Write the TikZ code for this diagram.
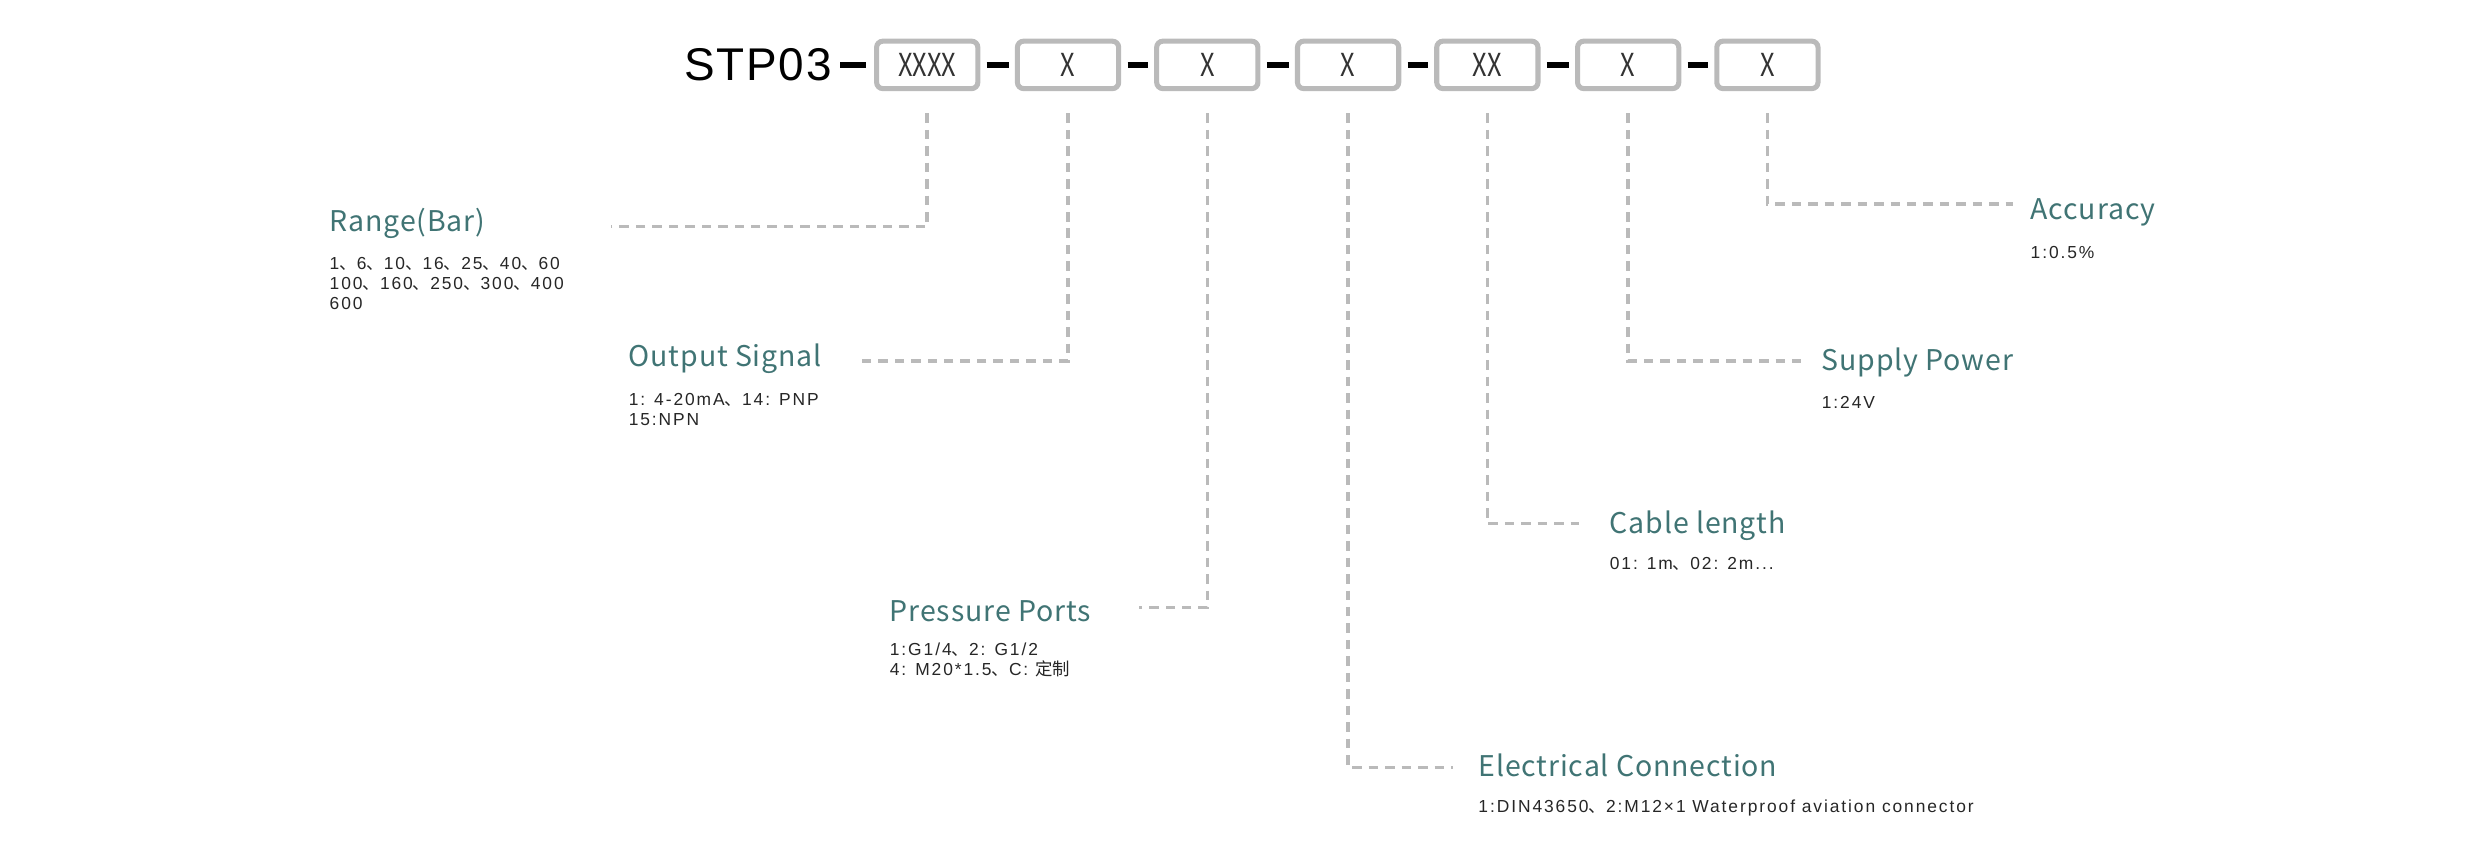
\documentclass[tikz,border=0pt]{standalone}
\usepackage{fontspec}
\setmainfont{Noto Sans CJK SC}
\newfontfamily\detailfont{Liberation Sans}
\newfontfamily\cjkfont{Noto Sans CJK SC}
\newfontfamily\stpfont{Liberation Sans}
\begin{document}
\begin{tikzpicture}[x=0.5pt,y=-0.5pt,
  box/.style={draw=black!27,line width=1.6pt,rounded corners=2pt,minimum width=32pt,minimum height=15pt,inner sep=0pt,text=black!80,font=\fontsize{10}{10}\selectfont\addfontfeature{FakeStretch=0.8}},
  sep/.style={line width=1.7pt,black},
  conn/.style={draw=black!27,line width=1.1pt,dash pattern=on 3pt off 2.2pt,shorten <=7pt},
  lab/.style={anchor=west,inner sep=0pt,text=teal!55!black!75,font=\fontsize{9}{10}\selectfont\addfontfeature{LetterSpace=3}},
  det/.style={anchor=north west,inner sep=0pt,align=left,text=black!85,font=\detailfont\fontsize{5.5}{6.4}\selectfont\addfontfeature{LetterSpace=11}}]
\useasboundingbox (0,0) rectangle (1568,543);
\node[inner sep=0pt,anchor=east,font=\stpfont\fontsize{14.5}{15}\selectfont\addfontfeature{LetterSpace=4}] (stp) at (526,41) {STP03};
\foreach \i/\x/\t in {1/586/XXXX,2/675/X,3/763/X,4/852/X,5/940/XX,6/1029/X,7/1117/X}
  \node[box] (b\i) at (\x,41) {\t};
\draw[sep] (531,41) -- (547,41);
\foreach \a/\b in {1/2,2/3,3/4,4/5,5/6,6/7}
  \draw[sep] ([xshift=2pt]b\a.east) -- ([xshift=-2pt]b\b.west);
% labels
\node[lab] (l1) at (208,141) {Range(Bar)};
\node[det] (d1) at (208,162) {1{\cjkfont 、}6{\cjkfont 、}10{\cjkfont 、}16{\cjkfont 、}25{\cjkfont 、}40{\cjkfont 、}60\\100{\cjkfont 、}160{\cjkfont 、}250{\cjkfont 、}300{\cjkfont 、}400\\600};
\node[lab] (l2) at (397,227) {Output Signal};
\node[det] (d2) at (397,248) {1: 4-20mA{\cjkfont 、}14: PNP\\15:NPN};
\node[lab] (l3) at (562,386) {Pressure Ports};
\node[det] (d3) at (562,406) {1:G1/4{\cjkfont 、}2: G1/2\\4: M20*1.5{\cjkfont 、}C: {\cjkfont 定制}};
\node[lab] (l4) at (934,484) {Electrical Connection};
\node[det] (d4) at (934,505) {1:DIN43650{\cjkfont 、}2:M12×1 Waterproof aviation connector};
\node[lab] (l5) at (1017,332) {Cable length};
\node[det] (d5) at (1017,352) {01: 1m{\cjkfont 、}02: 2m...};
\node[lab] (l6) at (1151,229) {Supply Power};
\node[det] (d6) at (1151,250) {1:24V};
\node[lab] (l7) at (1283,134) {Accuracy};
\node[det] (d7) at (1283,155) {1:0.5\%};
% connector ends
\coordinate (e1) at (386,143);
\coordinate (e2) at (545,228);
\coordinate (e3) at (720,384);
\coordinate (e4) at (918,485);
\coordinate (e5) at (998,331);
\coordinate (e6) at (1138,228);
\coordinate (e7) at (1272,129);
\foreach \i in {1,...,7}
  \draw[conn] (b\i.south) |- (e\i);
\end{tikzpicture}
\end{document}
